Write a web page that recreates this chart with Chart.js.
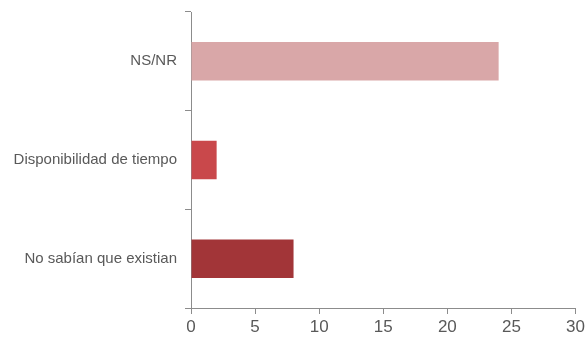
<!DOCTYPE html>
<html>
<head>
<meta charset="utf-8">
<script src="https://cdn.jsdelivr.net/npm/chart.js@4"></script>
<style>
  html, body { margin: 0; padding: 0; background: #fff; }
  #wrap { width: 588px; height: 341px; }
</style>
</head>
<body>
<div id="wrap"><canvas id="chart"></canvas></div>
<script>
const categories = ["NS/NR", "Disponibilidad de tiempo", "No sabían que existian"];
const values = [24, 2, 8];
const barColors = ["#d9a7a8", "#c9484b", "#a23538"];
const xTicks = [0, 5, 10, 15, 20, 25, 30];

const font = "'Liberation Sans', Arial, sans-serif";

new Chart(document.getElementById("chart"), {
  type: "bar",
  data: {
    labels: categories,
    datasets: [{
      data: values,
      backgroundColor: barColors,
      borderWidth: 0,
      barPercentage: 0.39,
      categoryPercentage: 1
    }]
  },
  options: {
    indexAxis: "y",
    responsive: true,
    maintainAspectRatio: false,
    animation: false,
    layout: { padding: { top: 12, right: 8, left: 0, bottom: 0 } },
    plugins: { legend: { display: false }, tooltip: { enabled: false } },
    scales: {
      x: {
        min: 0,
        max: 30,
        afterBuildTicks: (axis) => { axis.ticks = xTicks.map(v => ({ value: v })); },
        afterFit: (axis) => { axis.height = 33; },
        grid: { drawOnChartArea: false, drawTicks: true, tickLength: 6, color: "#8c8c8c" },
        border: { color: "#8c8c8c", width: 1 },
        ticks: { color: "#595959", font: { family: font, size: 17 }, padding: 3 }
      },
      y: {
        afterFit: (axis) => {
          axis.width = 191;
          axis.paddingTop = 0;
          axis.paddingBottom = 0;
        },
        grid: { drawOnChartArea: false, drawTicks: true, tickLength: 6, offset: true, color: "#8c8c8c" },
        border: { color: "#8c8c8c", width: 1 },
        ticks: { color: "#595959", font: { family: font, size: 15 }, padding: 8 }
      }
    }
  }
});
</script>
</body>
</html>
